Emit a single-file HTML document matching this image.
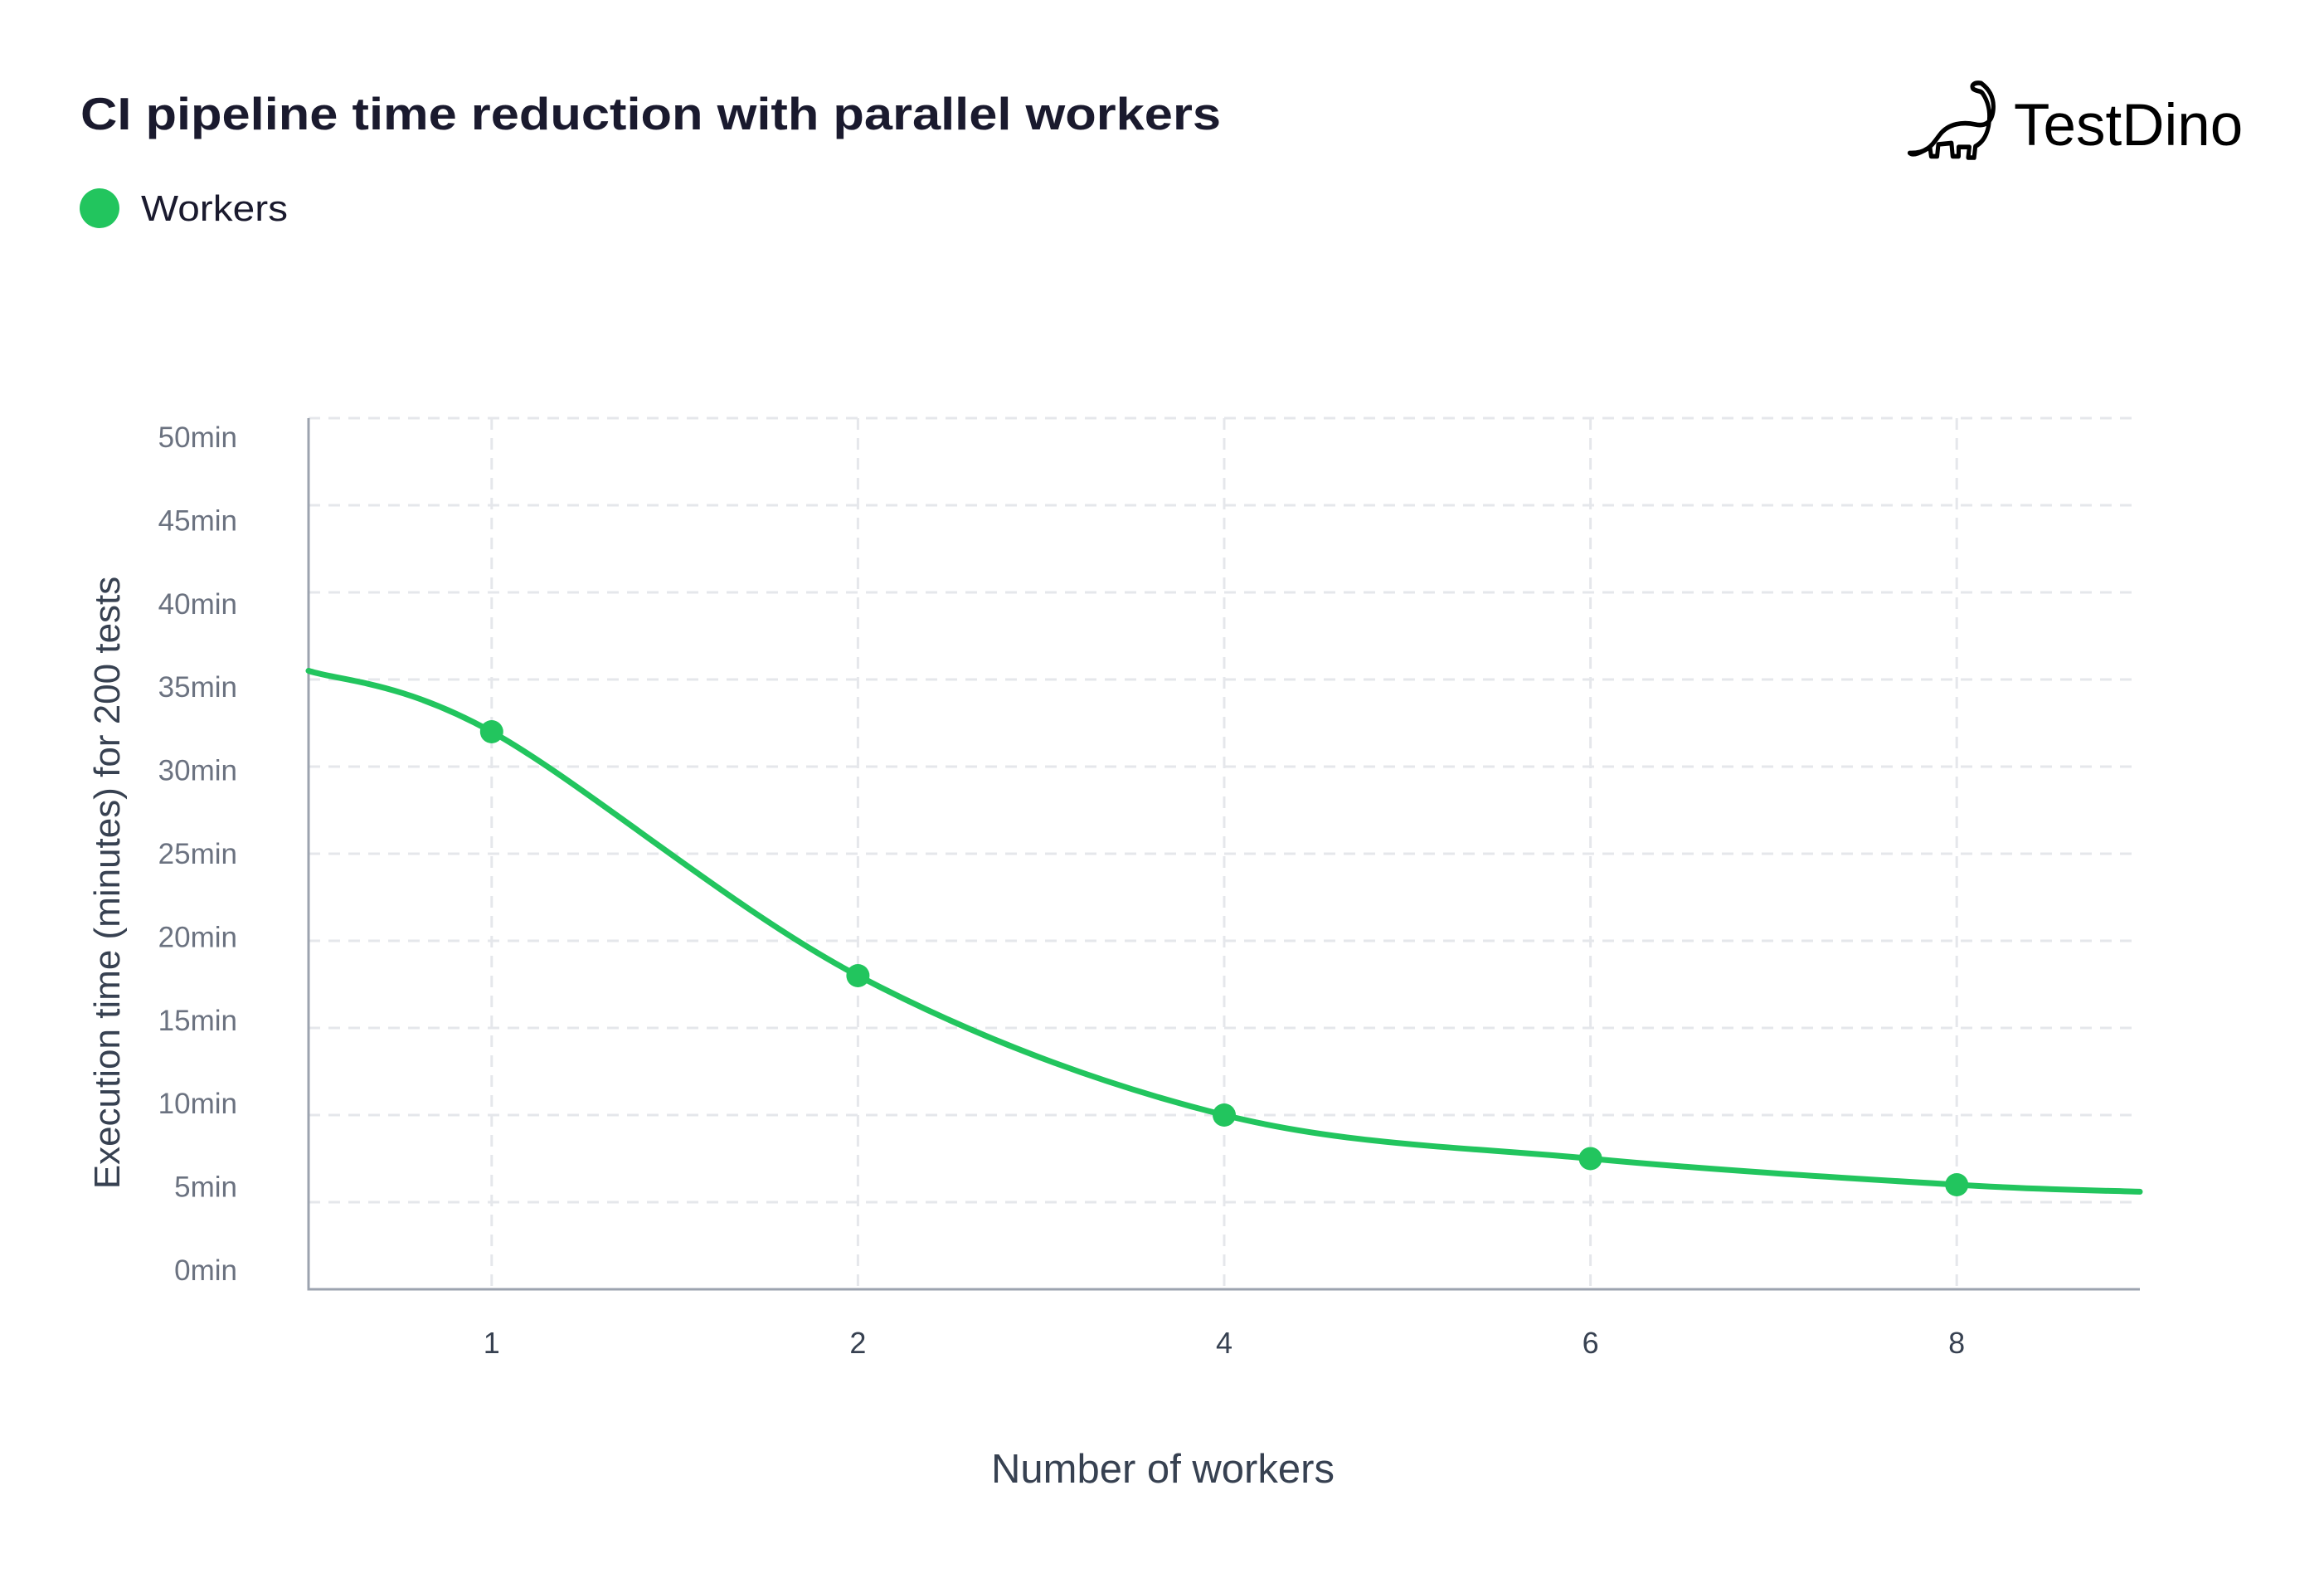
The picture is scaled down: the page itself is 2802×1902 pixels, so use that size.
<!DOCTYPE html>
<html><head><meta charset="utf-8"><style>
html,body{margin:0;padding:0;background:#fff;width:2802px;height:1902px;overflow:hidden;}
svg text{font-family:"Liberation Sans",sans-serif;}
</style></head><body>
<svg id="chart" width="2802" height="1902" viewBox="0 0 2802 1902" xmlns="http://www.w3.org/2000/svg">
<rect width="2802" height="1902" fill="#fff"/>
<text x="97" y="156" font-size="55" font-weight="bold" fill="#1a1a2e" textLength="1375" lengthAdjust="spacingAndGlyphs">CI pipeline time reduction with parallel workers</text>
<g>
<circle cx="120" cy="251" r="24" fill="#22c55e"/>
<text x="170" y="266" font-size="44" fill="#1a1a2e" textLength="177" lengthAdjust="spacingAndGlyphs">Workers</text>
</g>
<g>
<g fill="none" stroke="#000" stroke-width="7" stroke-linecap="round" stroke-linejoin="round" transform="translate(2301,98) scale(0.72,0.8) translate(-2298,-77)">
<path d="M2300 185 C2330 186 2338 172 2350 158 C2365 140 2390 138 2410 142 C2425 145 2438 140 2440 120 C2442 100 2432 88 2420 80 C2410 78 2402 82 2406 88 C2412 93 2418 90 2422 95 C2432 108 2436 125 2432 145 C2428 162 2420 170 2410 175 L2408 192 L2398 192 L2400 176 L2382 176 L2382 190 L2372 190 L2370 170 L2348 172 L2346 190 L2336 190 L2334 176 C2320 184 2306 190 2300 185 Z"/>
</g>
<text x="2428" y="175" font-size="71" fill="#000">TestDino</text>
</g>
<g id="plot"></g>
</svg>
<script>
const categories = ["1","2","4","6","8"];
const values = [32, 18, 10, 7.5, 6];
const edgeLeft = 35.5;
const edgeRight = 5.6;
const yTicks = [0,5,10,15,20,25,30,35,40,45,50];
const yTickLabels = ["0min","5min","10min","15min","20min","25min","30min","35min","40min","45min","50min"];

const NS = "http://www.w3.org/2000/svg";
const g = document.getElementById('plot');
const X0 = 372, X1 = 2580, Y0 = 1554, Y1 = 504;
const band = (X1 - X0) / categories.length;
const xs = i => X0 + band * (i + 0.5);
const ys = v => Y0 - (v / 50) * (Y0 - Y1);
const yLab = v => 1531 - (v / 50) * (1531 - 527);
function el(t, a, p) { const e = document.createElementNS(NS, t); for (const k in a) e.setAttribute(k, a[k]); (p || g).appendChild(e); return e; }

yTicks.forEach((v, i) => {
  const l = el('line', {x1: X0, x2: X1, y1: ys(v), y2: ys(v), stroke: '#e5e7eb', 'stroke-width': 3, 'stroke-dasharray': '14 10'});
  
  
  const t = el('text', {x: 286, y: yLab(v) + 12, 'font-size': 35, fill: '#6b7280', 'text-anchor': 'end'});
  t.textContent = yTickLabels[i];
  
  
});
categories.forEach((c, i) => {
  const l = el('line', {x1: xs(i), x2: xs(i), y1: Y1, y2: Y0, stroke: '#e5e7eb', 'stroke-width': 3, 'stroke-dasharray': '14 10'});
  
  
  const t = el('text', {x: xs(i), y: 1631, 'font-size': 36, fill: '#374151', 'text-anchor': 'middle'});
  t.textContent = c;
  
  
});
const ax = el('path', {d: `M${X0} ${Y1} L${X0} ${Y0} L${X1} ${Y0}`, fill: 'none', stroke: '#9ca3af', 'stroke-width': 3});



const pts = [[X0, ys(edgeLeft)]].concat(values.map((v, i) => [xs(i), ys(v)])).concat([[X1, ys(edgeRight)]]);
let d = `M${pts[0][0]} ${pts[0][1]}`;
for (let i = 0; i < pts.length - 1; i++) {
  const p0 = pts[Math.max(0, i - 1)], p1 = pts[i], p2 = pts[i + 1], p3 = pts[Math.min(pts.length - 1, i + 2)];
  const c1x = p1[0] + (p2[0] - p0[0]) / 6, c1y = p1[1] + (p2[1] - p0[1]) / 6;
  const c2x = p2[0] - (p3[0] - p1[0]) / 6, c2y = p2[1] - (p3[1] - p1[1]) / 6;
  d += ` C${c1x} ${c1y} ${c2x} ${c2y} ${p2[0]} ${p2[1]}`;
}
const line = el('path', {d: d, fill: 'none', stroke: '#22c55e', 'stroke-width': 7, 'stroke-linecap': 'round'});


values.forEach((v, i) => {
  const c = el('circle', {cx: xs(i), cy: ys(v), r: 14, fill: '#22c55e'});
  
  
});

const yt = el('text', {x: 0, y: 0, 'font-size': 44, fill: '#374151', 'text-anchor': 'middle', transform: 'translate(144,1064) rotate(-90)'});
yt.textContent = 'Execution time (minutes) for 200 tests';


const xt = el('text', {x: 1402, y: 1787, 'font-size': 49, fill: '#374151', 'text-anchor': 'middle'});
xt.textContent = 'Number of workers';


</script>
</body></html>
